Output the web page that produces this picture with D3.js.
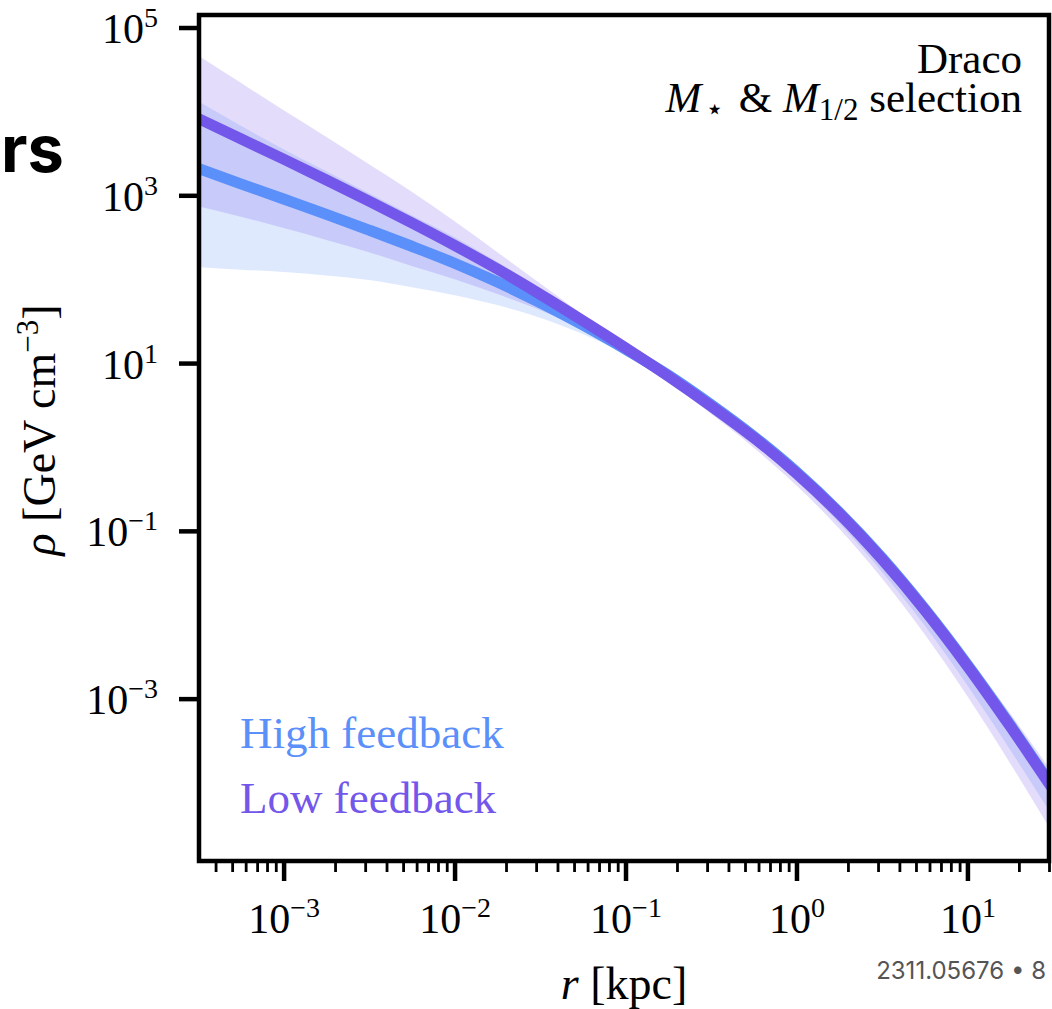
<!DOCTYPE html>
<html>
<head>
<meta charset="utf-8">
<script src="https://cdn.jsdelivr.net/npm/d3@7"></script>
<style>
  html, body { margin: 0; padding: 0; background: #fff; }
  svg { display: block; }
  .serif { font-family: "Liberation Serif", "Times New Roman", serif; }
</style>
</head>
<body>
<svg id="chart" width="1052" height="1009"></svg>
<script>
// Radius grid, kpc
const radii = [3.16e-4, 5.62e-4, 1e-3, 1.78e-3, 3.16e-3, 5.62e-3, 0.01, 0.0178, 0.0316, 0.0562,
               0.1, 0.178, 0.316, 0.562, 1, 1.78, 3.16, 5.62, 10, 17.8, 31.6];

// Low feedback: median density and band edges, GeV cm^-3
const lowMedian = [8260, 4720, 2700, 1520, 851, 469, 253, 132, 66.2, 32.1,
                   15.2, 6.98, 3.08, 1.29, 0.484, 0.160, 0.0459, 0.0114, 0.00244, 0.000466, 0.0000830];
const lowUpper  = [46500, 21900, 10300, 4950, 2340, 1100, 490, 210, 89.5, 37.8,
                   16.9, 7.59, 3.35, 1.40, 0.541, 0.184, 0.0541, 0.0141, 0.00321, 0.000665, 0.000129];
const lowLower  = [740, 556, 407, 294, 210, 144, 99.8, 66.4, 42.8, 25.1,
                   13.2, 5.93, 2.48, 0.979, 0.348, 0.106, 0.0273, 0.00587, 0.00107, 0.000169, 0.0000248];

// High feedback: median density and band edges, GeV cm^-3
const highMedian = [2090, 1370, 902, 593, 385, 247, 155, 92.3, 52.5, 28.4,
                    14.6, 7.18, 3.21, 1.34, 0.504, 0.166, 0.0479, 0.0118, 0.00254, 0.000485, 0.0000865];
const highUpper  = [13200, 6730, 3550, 1930, 1060, 577, 316, 160, 77.1, 35.4,
                    16.3, 7.80, 3.49, 1.46, 0.547, 0.186, 0.0535, 0.0136, 0.00299, 0.000604, 0.000114];
const highLower  = [139, 130, 122, 111, 97.7, 80.2, 64.3, 49.1, 34.8, 22.2,
                    12.7, 6.25, 2.73, 1.11, 0.394, 0.123, 0.0326, 0.00743, 0.00143, 0.000244, 0.0000391];

const seriesNames = ["High feedback", "Low feedback"];
const seriesColors = ["#5b8ff9", "#7356ea"];

const xMajorTicks = [1e-3, 1e-2, 1e-1, 1e0, 1e1];
const xMajorExp = ["−3", "−2", "−1", "0", "1"];
const yMajorTicks = [1e5, 1e3, 1e1, 1e-1, 1e-3];
const yMajorExp = ["5", "3", "1", "−1", "−3"];

const svg = d3.select("#chart");
const plot = { left: 199, right: 1049, top: 15, bottom: 861 };

const x = d3.scaleLog().domain([3.2e-4, 30]).range([plot.left, plot.right]);
const y = d3.scaleLog().domain([1.41e5, 1.16e-5]).range([plot.top, plot.bottom]);

svg.append("defs").append("clipPath").attr("id", "plotClip")
  .append("rect")
  .attr("x", plot.left).attr("y", plot.top)
  .attr("width", plot.right - plot.left).attr("height", plot.bottom - plot.top);

const g = svg.append("g").attr("clip-path", "url(#plotClip)");

const rows = radii.map((r, i) => ({
  r,
  low: lowMedian[i], lowHi: lowUpper[i], lowLo: lowLower[i],
  high: highMedian[i], highHi: highUpper[i], highLo: highLower[i]
}));

const area = (lo, hi) => d3.area()
  .x(d => x(d.r)).y0(d => y(d[lo])).y1(d => y(d[hi]))
  .curve(d3.curveMonotoneX);
const line = key => d3.line()
  .x(d => x(d.r)).y(d => y(d[key]))
  .curve(d3.curveMonotoneX);

// Uncertainty bands
g.append("path").datum(rows).attr("d", area("highLo", "highHi"))
  .attr("fill", seriesColors[0]).attr("fill-opacity", 0.2);
g.append("path").datum(rows).attr("d", area("lowLo", "lowHi"))
  .attr("fill", seriesColors[1]).attr("fill-opacity", 0.2);

// Median profiles
g.append("path").datum(rows).attr("d", line("high"))
  .attr("fill", "none").attr("stroke", seriesColors[0]).attr("stroke-width", 11);
g.append("path").datum(rows).attr("d", line("low"))
  .attr("fill", "none").attr("stroke", seriesColors[1]).attr("stroke-width", 11);

// Axes
const fontSize = 42, supSize = 28;

const xMinor = [];
for (let e = -4; e <= 1; e++) for (let m = 2; m <= 9; m++) {
  const v = m * Math.pow(10, e);
  if (v >= x.domain()[0] && v <= x.domain()[1]) xMinor.push(v);
}

const xAxisMinor = svg.append("g").attr("transform", `translate(0,${plot.bottom})`)
  .call(d3.axisBottom(x).tickValues(xMinor).tickSize(11).tickFormat(""));
xAxisMinor.select(".domain").remove();
xAxisMinor.selectAll(".tick line").attr("stroke", "#000").attr("stroke-width", 2.8);

const xAxis = svg.append("g").attr("transform", `translate(0,${plot.bottom})`)
  .call(d3.axisBottom(x).tickValues(xMajorTicks).tickSize(20).tickFormat(""));
xAxis.select(".domain").remove();
xAxis.selectAll(".tick line").attr("stroke", "#000").attr("stroke-width", 4.5);
xAxis.selectAll(".tick").each(function(d, i) {
  const t = d3.select(this).append("text").attr("class", "serif")
    .attr("y", 72).attr("fill", "#000").attr("text-anchor", "middle")
    .attr("font-size", fontSize);
  t.append("tspan").text("10");
  t.append("tspan").attr("dy", -16).attr("font-size", supSize).text(xMajorExp[i]);
});

const yAxis = svg.append("g").attr("transform", `translate(${plot.left},0)`)
  .call(d3.axisLeft(y).tickValues(yMajorTicks).tickSize(20).tickFormat(""));
yAxis.select(".domain").remove();
yAxis.selectAll(".tick line").attr("stroke", "#000").attr("stroke-width", 4.5);
yAxis.selectAll(".tick").each(function(d, i) {
  const t = d3.select(this).append("text").attr("class", "serif")
    .attr("x", -41).attr("y", 15).attr("fill", "#000").attr("text-anchor", "end")
    .attr("font-size", fontSize);
  t.append("tspan").text("10");
  t.append("tspan").attr("dy", -16).attr("font-size", supSize).text(yMajorExp[i]);
});

// Frame
svg.append("rect")
  .attr("x", plot.left).attr("y", plot.top)
  .attr("width", plot.right - plot.left).attr("height", plot.bottom - plot.top)
  .attr("fill", "none").attr("stroke", "#000").attr("stroke-width", 4.5);

// Axis titles
const titleSize = 46;
const xTitle = svg.append("text").attr("class", "serif")
  .attr("x", (plot.left + plot.right) / 2).attr("y", 999)
  .attr("text-anchor", "middle").attr("font-size", titleSize).attr("fill", "#000");
xTitle.append("tspan").attr("font-style", "italic").text("r");
xTitle.append("tspan").text(" [kpc]");

const yTitle = svg.append("text").attr("class", "serif")
  .attr("transform", `translate(55,${(plot.top + plot.bottom) / 2 - 8}) rotate(-90)`)
  .attr("text-anchor", "middle").attr("font-size", titleSize).attr("fill", "#000");
yTitle.append("tspan").attr("font-style", "italic").text("ρ");
yTitle.append("tspan").text(" [GeV cm");
yTitle.append("tspan").attr("dy", -17).attr("font-size", 31).text("−3");
yTitle.append("tspan").attr("dy", 17).text("]");

// Annotation
const noteSize = 43;
svg.append("text").attr("class", "serif")
  .attr("x", 1022).attr("y", 73).attr("text-anchor", "end")
  .attr("font-size", noteSize).attr("fill", "#000").text("Draco");
const sel = svg.append("text").attr("class", "serif")
  .attr("x", 1022).attr("y", 112).attr("text-anchor", "end")
  .attr("font-size", noteSize).attr("fill", "#000");
sel.append("tspan").attr("font-style", "italic").text("M");
sel.append("tspan").attr("dx", 4).attr("dy", 7).attr("font-size", 30)
  .attr("font-family", "DejaVu Sans").text("\u22C6");
sel.append("tspan").attr("dx", 4).attr("dy", -7).text(" & ");
sel.append("tspan").attr("font-style", "italic").text("M");
sel.append("tspan").attr("dy", 8).attr("font-size", 31).text("1/2");
sel.append("tspan").attr("dy", -8).text(" selection");

// Legend as coloured labels
svg.selectAll("text.legend").data(seriesNames).join("text")
  .attr("class", "legend serif")
  .attr("x", 240).attr("y", (d, i) => 748 + i * 65)
  .attr("font-size", 45)
  .attr("fill", (d, i) => seriesColors[i])
  .text(d => d);

// Page furniture around the figure
svg.append("text").attr("x", 1).attr("y", 172).attr("text-anchor", "start")
  .attr("font-family", "Inter, Roboto, sans-serif").attr("font-weight", 700)
  .attr("font-size", 65).attr("fill", "#000").text("rs");
svg.append("text").attr("x", 1046).attr("y", 979).attr("text-anchor", "end")
  .attr("font-family", "Inter, Roboto, sans-serif")
  .attr("font-size", 24).attr("fill", "#555").text("2311.05676 • 8");
</script>
</body>
</html>
